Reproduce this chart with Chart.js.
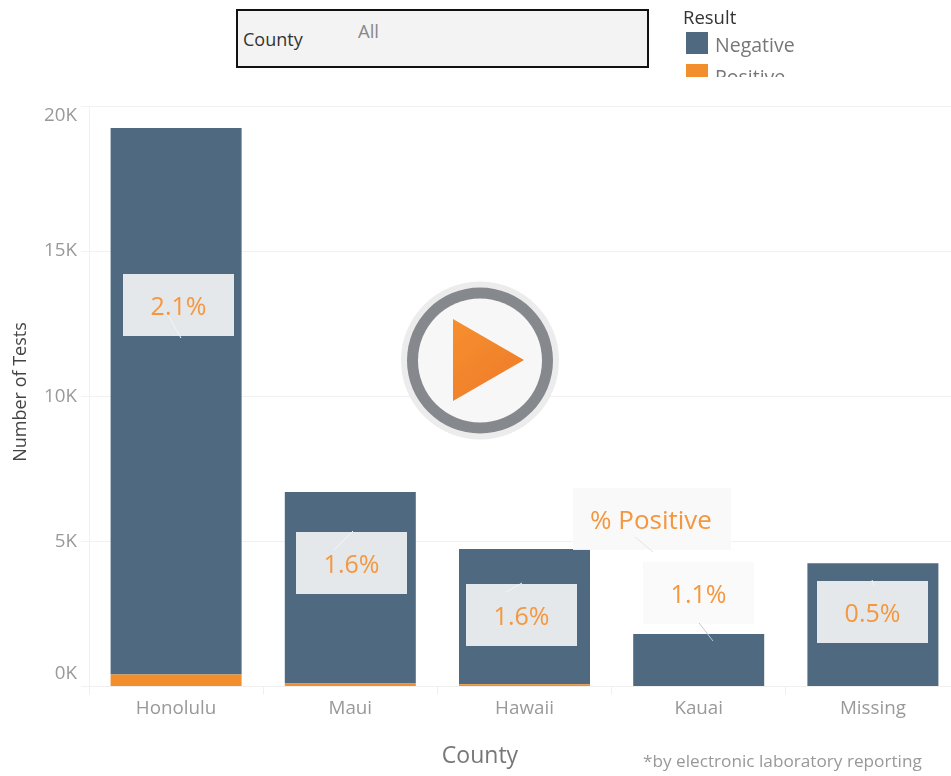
<!DOCTYPE html>
<html><head><meta charset="utf-8">
<script src="https://cdn.jsdelivr.net/npm/chart.js@4"></script>
<style>
html,body{margin:0;padding:0;width:951px;height:776px;overflow:hidden;background:#fff;font-family:"Open Sans",sans-serif}
#wrap{position:absolute;left:0;top:0;width:951px;height:776px;overflow:hidden;filter:blur(.5px)}
canvas{position:absolute;left:0;top:0}
#filter{position:absolute;left:236px;top:9px;width:409px;height:55px;border:2px solid #111;background:#f3f3f3}
#filter b{position:absolute;left:5px;top:17px;font-weight:400;font-size:18px;color:#333;line-height:22px}
#filter i{position:absolute;left:120px;top:9px;font-style:normal;font-size:18.5px;color:#888;line-height:22px}
#legend{position:absolute;left:683px;top:6px;width:200px;height:71px;overflow:hidden}
#legend .t{position:absolute;left:0;top:0;font-size:18.5px;color:#333;line-height:22px}
.it{position:absolute;left:3px;height:22px;width:190px}
.it span{position:absolute;left:0;top:0;width:22px;height:22px}
.it em{position:absolute;left:29px;top:1px;font-style:normal;font-size:19.5px;color:#777;line-height:24px}
</style></head><body>
<div id="wrap">
<canvas id="c" width="1000" height="776" style="width:1000px;height:776px"></canvas>
<div id="filter"><b>County</b><i>All</i></div>
<div id="legend"></div>
</div>
<script>
const counties = ['Honolulu','Maui','Hawaii','Kauai','Missing'];
const negativeTests = [18830,6590,4665,1790,4230];
const positiveTests = [410,107,75,20,20];
const percentLabels = ['2.1%','1.6%','1.6%','1.1%','0.5%'];
const yTicks = [0,5000,10000,15000,20000];
const seriesNames = ['Negative','Positive'];
const seriesColors = ['#4f6980','#f28e2b'];

const FONT = '"Open Sans", sans-serif';
const calloutBoxes = [
  {x:123,y:274,tail:[168,315,181,338],tc:'#f4f5f6'},
  {x:296,y:532,tail:[334,550,353,531],tc:'#f4f5f6'},
  {x:466,y:584,tail:[506,592,522,583],tc:'#f4f5f6'},
  {x:643,y:562,tail:[699,623,713,641],tc:'#c4c8cd'},
  {x:817,y:581,tail:[872,580,874,586],tc:'#f4f5f6'}
];

const leg = document.getElementById('legend');
leg.innerHTML = '<div class="t">Result</div>' + seriesNames.map((n,i)=>
  `<div class="it" style="top:${26+i*32}px"><span style="background:${seriesColors[i]}"></span><em>${n}</em></div>`).join('');

const overlay = {
  id:'overlay',
  afterDatasetsDraw(chart){
    const g = chart.ctx;
    g.save();
    g.textAlign='center'; g.textBaseline='middle';
    g.fillStyle='rgba(249,249,249,.93)';
    g.fillRect(573,488,158,62);
    g.strokeStyle='#e4e4e4'; g.lineWidth=1;
    g.beginPath(); g.moveTo(635,537); g.lineTo(653,552); g.stroke();
    g.fillStyle='#f5973f';
    g.font='500 26px '+FONT;
    g.fillText('% Positive',651,522);
    percentLabels.forEach((t,i)=>{
      const b=calloutBoxes[i];
      g.fillStyle='rgba(249,249,249,.88)';
      g.fillRect(b.x,b.y,111,62);
      g.strokeStyle=b.tc; g.lineWidth=1;
      g.beginPath(); g.moveTo(b.tail[0],b.tail[1]); g.lineTo(b.tail[2],b.tail[3]); g.stroke();
      g.fillStyle='#f5973f';
      g.font='25px '+FONT;
      g.fillText(t,b.x+55.5,b.y+34);
    });
    g.fillStyle='#777'; g.font='23px '+FONT;
    g.fillText('County',480,756);
    g.fillStyle='#999'; g.font='17.2px '+FONT; g.textAlign='left';
    g.fillText('*by electronic laboratory reporting',643,762);
    g.save();
    g.translate(21,392); g.rotate(-Math.PI/2);
    g.textAlign='center'; g.fillStyle='#444'; g.font='18px '+FONT;
    g.fillText('Number of Tests',0,0);
    g.restore();
    g.beginPath(); g.arc(480,360.5,79,0,Math.PI*2); g.fillStyle='#ececec'; g.fill();
    g.beginPath(); g.arc(480,360.5,73,0,Math.PI*2); g.fillStyle='#85888c'; g.fill();
    g.beginPath(); g.arc(480,360.5,62,0,Math.PI*2); g.fillStyle='#f7f7f7'; g.fill();
    const gr=g.createLinearGradient(453,319,524,401);
    gr.addColorStop(0,'#f68f2e'); gr.addColorStop(1,'#ee7a2a');
    g.beginPath(); g.moveTo(453,319); g.lineTo(524,360); g.lineTo(453,401); g.closePath();
    g.fillStyle=gr; g.fill();
    g.restore();
  }
};

new Chart(document.getElementById('c'),{
  type:'bar',
  data:{labels:counties,datasets:[
    {label:seriesNames[1],data:positiveTests,backgroundColor:seriesColors[1]},
    {label:seriesNames[0],data:negativeTests,backgroundColor:seriesColors[0]}
  ]},
  options:{
    responsive:false,animation:false,devicePixelRatio:1,
    layout:{padding:{left:0,right:40,top:106,bottom:0}},
    plugins:{legend:{display:false},tooltip:{enabled:false},title:{display:false}},
    datasets:{bar:{barPercentage:.752,categoryPercentage:1}},
    scales:{
      x:{stacked:true,
        grid:{offset:true,drawOnChartArea:false,drawTicks:true,tickLength:8,color:'#efefef'},
        border:{color:'#efefef'},
        ticks:{color:'#999',font:{family:FONT,size:18.8},padding:3,maxRotation:0},
        afterFit(s){s.height=89.5}
      },
      y:{stacked:true,min:0,max:20000,
        afterBuildTicks(s){s.ticks=yTicks.map(v=>({value:v}))},
        grid:{color:'#f1f1f1',tickLength:8},
        border:{color:'#f1f1f1'},
        ticks:{color:'#999',padding:4,
          font(ctx){const v=ctx.tick&&ctx.tick.value;return {family:FONT,size:18.8,lineHeight:v===0?'25px':'19px'}},
          callback(v){const t=(v/1000)+'K';return v===0?[t,'']:v===20000?['',t]:t}
        },
        afterFit(s){s.width=89}
      }
    }
  },
  plugins:[overlay]
});
</script>
</body></html>
